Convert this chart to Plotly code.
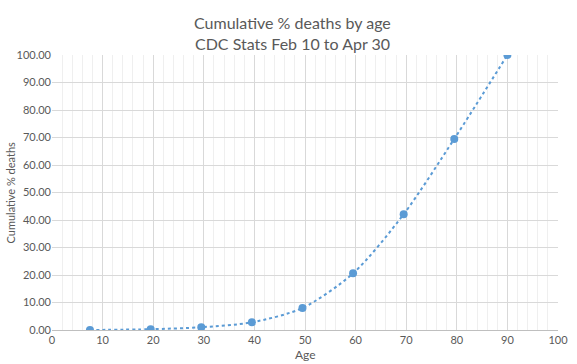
import plotly.graph_objects as go

ages = [7.5, 19.5, 29.5, 39.5, 49.5, 59.5, 69.5, 79.5, 90]
cum_pct = [0.0, 0.3, 1.0, 2.8, 8.0, 20.6, 42.1, 69.5, 100.0]
x_ticks = list(range(0, 101, 10))
y_ticks = list(range(0, 101, 10))

color = "#5b9bd5"
font_family = "Lato, 'Open Sans', sans-serif"
gray = "#595959"

fig = go.Figure()
fig.add_trace(go.Scatter(
    x=ages, y=cum_pct, mode="lines",
    line=dict(color=color, width=2, dash="dot", shape="spline", smoothing=0.8),
    hoverinfo="skip", showlegend=False,
))
fig.add_trace(go.Scatter(
    x=ages, y=cum_pct, mode="markers",
    marker=dict(color=color, size=8),
    showlegend=False,
))

fig.update_layout(
    width=577, height=364,
    margin=dict(l=52, r=19, t=55, b=34),
    paper_bgcolor="white", plot_bgcolor="white",
    font=dict(family=font_family, color=gray, size=11),
    xaxis=dict(
        range=[0, 100], tickvals=x_ticks, ticktext=[str(v) for v in x_ticks],
        showgrid=True, gridcolor="#d9d9d9", gridwidth=1,
        minor=dict(dtick=2, showgrid=True, gridcolor="#efefef", gridwidth=1),
        showline=True, linecolor="#bfbfbf", linewidth=1,
        zeroline=False, ticks="", automargin=False,
        tickfont=dict(size=11, color=gray),
    ),
    yaxis=dict(
        range=[0, 100], tickvals=y_ticks, ticktext=[f"{v:.2f}" for v in y_ticks],
        showgrid=True, gridcolor="#d9d9d9", gridwidth=1,
        zeroline=False, showline=False, ticks="", automargin=False,
        tickfont=dict(size=11, color=gray),
    ),
    annotations=[
        dict(text="Cumulative % deaths by age", xref="paper", yref="paper",
             x=0.5, xshift=-13, y=1.0, yshift=33, xanchor="center", yanchor="middle",
             showarrow=False, font=dict(size=16, color=gray)),
        dict(text="CDC Stats Feb 10 to Apr 30", xref="paper", yref="paper",
             x=0.5, xshift=-13, y=1.0, yshift=12, xanchor="center", yanchor="middle",
             showarrow=False, font=dict(size=16, color=gray)),
        dict(text="Age", xref="paper", yref="paper",
             x=0.5, y=0, yshift=-24, xanchor="center", yanchor="middle",
             showarrow=False, font=dict(size=12, color=gray)),
        dict(text="Cumulative % deaths", xref="paper", yref="paper",
             x=0, xshift=-42, y=0.5, xanchor="center", yanchor="middle",
             textangle=-90, showarrow=False, font=dict(size=11, color=gray)),
    ],
)

fig.write_html("out.html", config={"displayModeBar": False},
               post_script="document.body.style.margin='0';")
